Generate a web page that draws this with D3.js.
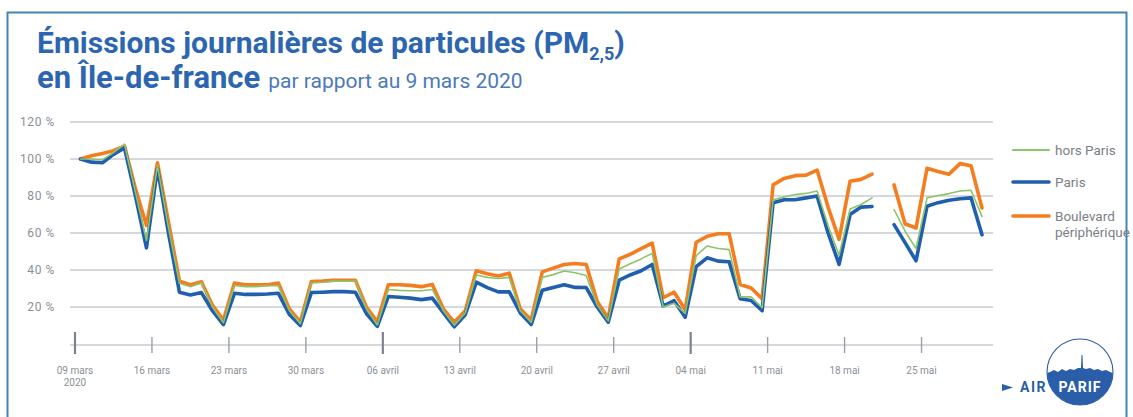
<!DOCTYPE html>
<html lang="fr">
<head>
<meta charset="utf-8">
<script src="https://cdn.jsdelivr.net/npm/d3@7"></script>
<style>
  html, body { margin: 0; padding: 0; background: #fff; }
  svg { display: block; font-family: Roboto, "Noto Sans", sans-serif; }
</style>
</head>
<body>
<svg id="chart" width="1133" height="417"></svg>
<script>
// Daily PM2.5 emissions in Île-de-France, relative to 9 March 2020 (= 100 %)
// One value per day from 9 March to 30 May 2020; null = no data (21 May).
const startDate = Date.UTC(2020, 2, 9);

const horsParis = [
  100, 100, 99.5, 103.5, 108, 82, 56, 96.5, 63, 32.8, 31, 33, 20, 11.5,
  31.6, 31, 31, 31.5, 31.5, 18, 11, 33, 33.4, 34, 34, 34, 19, 10.3,
  29.5, 29, 28.8, 28.8, 29.5, 18, 10.2, 16.8, 37.3, 36, 35.4, 36, 18, 11.7,
  36, 37.5, 39.5, 38.5, 37, 21, 12.5, 40.5, 43.4, 46, 49, 20, 22, 16.5,
  47.7, 53, 51.6, 51, 25.5, 25.5, 19.6, 78, 79.5, 80.8, 81.4, 82.7, 64, 48,
  73, 75.4, 79, null, 72.7, 61, 51.6, 79, 80.3, 81.3, 82.7, 83.1, 69
];

const paris = [
  100, 98.3, 98, 102.5, 106, 80, 52, 95, 60, 28, 26.5, 27.8, 18, 10.5,
  27.4, 26.8, 26.8, 27, 27.4, 16, 10, 27.8, 28, 28.3, 28.3, 28, 16.5, 9.5,
  25.7, 25.3, 24.8, 24, 24.8, 17, 9.3, 15.8, 33.4, 30.5, 28.2, 28.2, 16.8, 10.6,
  29, 30.6, 32, 30.6, 30.5, 20, 11.8, 34.5, 37.3, 39.6, 43, 20.5, 23.4, 14.5,
  41.8, 46.6, 44.8, 44.5, 24.5, 23.5, 18, 76.4, 78, 78, 79, 80, 60, 43,
  70, 74, 74.3, null, 64.5, 54.8, 45, 74.5, 76.4, 77.7, 78.5, 79, 59
];

const peripherique = [
  100, 101.7, 103, 104.5, 107, 84, 64, 98, 66, 34, 32, 33.6, 21, 13,
  33, 32, 32, 32, 33, 19, 12, 33.8, 34, 34.5, 34.5, 34.5, 20, 12,
  32, 32, 31.7, 31, 32.2, 19, 11.8, 18, 39.6, 38, 36.7, 38.3, 19, 13,
  39, 41, 43, 43.5, 43, 23, 14, 46, 48.5, 51.5, 54.5, 25, 28, 18.5,
  55, 58.2, 59.6, 59.6, 32.2, 30.3, 24.5, 86, 89.5, 91, 91.3, 94, 74, 56.5,
  88, 89, 91.8, null, 86, 65, 62.7, 95, 93.3, 91.8, 97.5, 96.4, 73.5
];

const seriesNames = ["hors Paris", "Paris", "Boulevard périphérique"];
const seriesColors = ["#8cc46a", "#1f5fae", "#f47d20"];

const yTicks = [20, 40, 60, 80, 100, 120];
const yTickLabels = ["20 %", "40 %", "60 %", "80 %", "100 %", "120 %"];

const xTickLabels = ["09 mars", "16 mars", "23 mars", "30 mars", "06 avril", "13 avril",
                     "20 avril", "27 avril", "04 mai", "11 mai", "18 mai", "25 mai"];

// ---------------------------------------------------------------------------
const svg = d3.select("#chart");
const DAY = 864e5;

const x = d3.scaleUtc()
  .domain([new Date(startDate), new Date(startDate + 83.5 * DAY)])
  .range([75, 993]);
const y = d3.scaleLinear().domain([0, 120]).range([344, 122]);

// frame
svg.append("rect")
  .attr("x", 7.5).attr("y", 12.5).attr("width", 1119).attr("height", 440)
  .attr("fill", "none").attr("stroke", "#3f86b6").attr("stroke-width", 2);

// title
const title = svg.append("text").attr("x", 37).attr("y", 53)
  .attr("fill", "#2d66b0").attr("font-weight", 700).attr("font-size", 30);
title.append("tspan").text("Émissions journalières de particules (PM");
title.append("tspan").attr("font-size", 18).attr("dy", 7).text("2,5");
title.append("tspan").attr("dy", -7).text(")");

const sub = svg.append("text").attr("x", 37).attr("y", 88).attr("fill", "#2d66b0");
sub.append("tspan").attr("font-weight", 700).attr("font-size", 31).text("en Île-de-france");
sub.append("tspan").attr("font-size", 21).attr("fill", "#4c79b9").attr("dx", 8)
  .text("par rapport au 9 mars 2020");

// gridlines + y labels
const yAxis = svg.append("g");
yAxis.selectAll("line").data(yTicks).join("line")
  .attr("x1", 70).attr("x2", 993)
  .attr("y1", d => y(d)).attr("y2", d => y(d))
  .attr("stroke", "#d5d9dd").attr("stroke-width", 2);
yAxis.selectAll("text").data(yTicks).join("text")
  .attr("x", 55).attr("y", d => y(d)).attr("dy", "0.35em")
  .attr("text-anchor", "end").attr("font-size", 12).attr("letter-spacing", 0.6)
  .attr("fill", "#8b9096")
  .text((d, i) => yTickLabels[i]);

// x axis
const tickDates = xTickLabels.map((_, i) => new Date(startDate + i * 7 * DAY));
const xAxis = svg.append("g");
xAxis.append("line")
  .attr("x1", 70).attr("x2", 993).attr("y1", 345).attr("y2", 345)
  .attr("stroke", "#d5d9dd").attr("stroke-width", 2);
xAxis.selectAll("line.tick").data(tickDates).join("line")
  .attr("class", "tick")
  .attr("x1", d => x(d)).attr("x2", d => x(d))
  .attr("y1", (d, i) => i % 4 === 0 ? 332 : 337)
  .attr("y2", (d, i) => i % 4 === 0 ? 354 : 353)
  .attr("stroke", (d, i) => i % 4 === 0 ? "#7d838a" : "#9aa0a6")
  .attr("stroke-width", (d, i) => i % 4 === 0 ? 2.2 : 1.4);
xAxis.selectAll("text").data(tickDates).join("text")
  .attr("x", d => x(d)).attr("y", 374)
  .attr("text-anchor", "middle").attr("font-size", 10).attr("fill", "#8b9096")
  .text((d, i) => xTickLabels[i]);
xAxis.append("text").attr("x", x(tickDates[0])).attr("y", 386)
  .attr("text-anchor", "middle").attr("font-size", 10).attr("fill", "#8b9096")
  .text("2020");

// lines
const allSeries = [horsParis, paris, peripherique];
const line = d3.line()
  .defined(d => d.v !== null)
  .x(d => x(d.date))
  .y(d => y(d.v));
const toPoints = arr => arr.map((v, i) => ({ date: new Date(startDate + (i + 0.5) * DAY), v }));
const widths = [1.6, 3.6, 3.6];
const drawOrder = [2, 1, 0];
const lines = svg.append("g").attr("fill", "none")
  .attr("stroke-linejoin", "round").attr("stroke-linecap", "round");
drawOrder.forEach(k => {
  lines.append("path")
    .datum(toPoints(allSeries[k]))
    .attr("d", line)
    .attr("stroke", seriesColors[k])
    .attr("stroke-width", widths[k]);
});

// legend
const legendY = [150, 182, 216];
const legend = svg.append("g");
seriesNames.forEach((name, k) => {
  legend.append("line")
    .attr("x1", 1013).attr("x2", 1049)
    .attr("y1", legendY[k]).attr("y2", legendY[k])
    .attr("stroke", seriesColors[k]).attr("stroke-width", k === 0 ? 2 : 3.6)
    .attr("stroke-linecap", "round");
  const t = legend.append("text").attr("x", 1055).attr("y", legendY[k])
    .attr("dy", "0.35em").attr("font-size", 13.5).attr("fill", "#7b8086");
  if (name === "Boulevard périphérique") {
    t.append("tspan").text("Boulevard");
    t.append("tspan").attr("x", 1055).attr("dy", 16).text("périphérique");
  } else {
    t.text(name);
  }
});

// AIRPARIF logo
const logo = svg.append("g");
const cx = 1080, cy = 372, r = 33;
logo.append("clipPath").attr("id", "logoClip")
  .append("circle").attr("cx", cx).attr("cy", cy).attr("r", r);
logo.append("circle").attr("cx", cx).attr("cy", cy).attr("r", r)
  .attr("fill", "none").attr("stroke", "#2a5ea8").attr("stroke-width", 1.1);
const skyline = d3.path();
skyline.moveTo(cx - r, cy + 1);
const bumps = [[-30, 0], [-26, -2], [-22, 0], [-18, -3], [-14, -1], [-10, -3], [-6, -2],
               [-2, -4], [1, -4], [1.5, -17], [2.5, -17], [3, -4], [6, -3], [10, -4],
               [14, -2], [18, -3], [22, -1], [26, -2], [30, 0], [33, 1]];
bumps.forEach(([dx, dy]) => skyline.lineTo(cx + dx, cy + dy));
skyline.lineTo(cx + r, cy + r);
skyline.lineTo(cx - r, cy + r);
skyline.closePath();
logo.append("path").attr("d", skyline.toString()).attr("fill", "#2a5ea8")
  .attr("clip-path", "url(#logoClip)");
logo.append("text").attr("x", cx).attr("y", 392).attr("text-anchor", "middle")
  .attr("font-size", 14).attr("font-weight", 700).attr("fill", "#fff")
  .attr("letter-spacing", 1).text("PARIF");
logo.append("text").attr("x", 1047).attr("y", 392).attr("text-anchor", "end")
  .attr("font-size", 14).attr("font-weight", 700).attr("fill", "#2a5ea8")
  .attr("letter-spacing", 1.5).text("AIR");
logo.append("path")
  .attr("d", "M1002,384 L1013,387.5 L1002,391 Z")
  .attr("fill", "#2a5ea8");
</script>
</body>
</html>
